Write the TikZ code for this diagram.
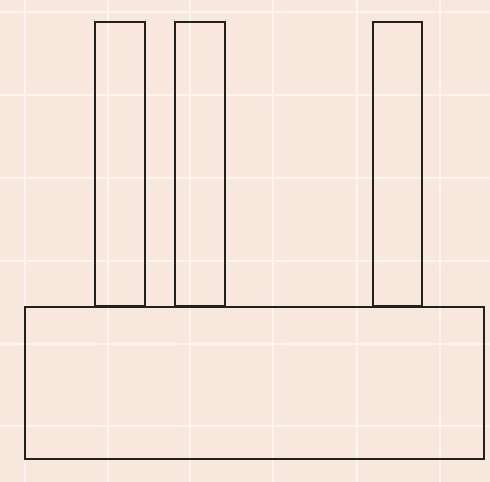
\documentclass[tikz,border=0pt]{standalone}
\usepackage{xcolor}
\definecolor{paperbg}{RGB}{248,231,221}
\definecolor{gridln}{RGB}{253,244,238}
\definecolor{edge}{RGB}{35,32,32}

\begin{document}
\begin{tikzpicture}[
        x=0.02cm, y=-0.02cm,
        block/.style={draw=edge, line width=1.1pt},
        gridline/.style={draw=gridln, line width=1.1pt}
    ]

    % paper and grid
    \fill[paperbg] (0,0) rectangle (490,482);
    \useasboundingbox (0,0) rectangle (490,482);
    \foreach \gx in {25,108,190,273,357,440}
        \draw[gridline] (\gx,0) -- (\gx,482);
    \foreach \gy in {12,95,178,261,344,426}
        \draw[gridline] (0,\gy) -- (490,\gy);

    % base and three columns
    \draw[block] (25,307) rectangle (484,459);
    \draw[block] (95,22) rectangle (145,306);
    \draw[block] (175,22) rectangle (225,306);
    \draw[block] (373,22) rectangle (422,306);

\end{tikzpicture}
\end{document}
